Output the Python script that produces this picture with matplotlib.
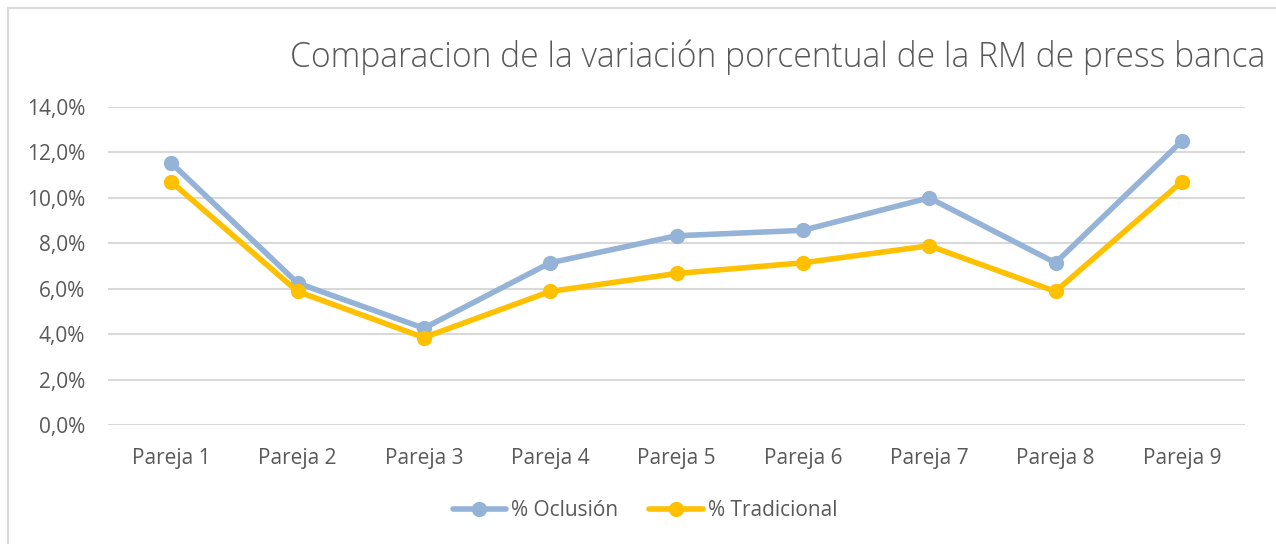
import matplotlib
matplotlib.use("Agg")
import matplotlib.pyplot as plt
from matplotlib.ticker import FuncFormatter
from matplotlib.patches import Rectangle

categories = ["Pareja 1", "Pareja 2", "Pareja 3", "Pareja 4", "Pareja 5",
              "Pareja 6", "Pareja 7", "Pareja 8", "Pareja 9"]
oclusion = [11.54, 6.25, 4.26, 7.14, 8.33, 8.57, 10.0, 7.14, 12.5]
tradicional = [10.71, 5.88, 3.85, 5.88, 6.67, 7.14, 7.89, 5.88, 10.71]
yticks = [0, 2, 4, 6, 8, 10, 12, 14]

plt.rcParams['font.family'] = ['Open Sans', 'DejaVu Sans']
W, H = 1276, 544
fig = plt.figure(figsize=(W / 100, H / 100), dpi=100)

# outer chart border
fig.patches.append(Rectangle((8 / W, -0.05), 1.2, (H - 8) / H + 0.05,
                             transform=fig.transFigure, fill=False,
                             edgecolor='#D9D9D9', linewidth=1.5))

left, right, top, bottom = 108, 1245, 107, 425
ax = fig.add_axes([left / W, 1 - bottom / H, (right - left) / W, (bottom - top) / H])

x = list(range(len(categories)))
ax.plot(x, oclusion, color='#95B3D7', linewidth=4, marker='o', markersize=10,
        label='% Oclusión', solid_capstyle='round', zorder=3)
ax.plot(x, tradicional, color='#FFC000', linewidth=4, marker='o', markersize=10,
        label='% Tradicional', solid_capstyle='round', zorder=3)

ax.set_xlim(-0.5, len(categories) - 0.5)
ax.set_ylim(0, 14)
ax.set_yticks(yticks)
ax.yaxis.set_major_formatter(FuncFormatter(lambda v, p: f"{v:.1f}%".replace('.', ',')))
ax.set_xticks(x)
ax.set_xticklabels(categories)
ax.grid(axis='y', color='#D9D9D9', linewidth=1.5, zorder=0)
ax.set_axisbelow(True)
for s in ax.spines.values():
    s.set_visible(False)
ax.tick_params(axis='both', length=0, labelsize=15, labelcolor='#595959')
ax.tick_params(axis='y', pad=16.5)
ax.tick_params(axis='x', pad=16.5)

fig.text(778 / W, 1 - 57 / H, "Comparacion de la variación porcentual de la RM de press banca",
         ha='center', va='center', fontsize=24.2, color='#595959', fontweight='light')

leg = fig.legend(loc='center', bbox_to_anchor=(645 / W, 1 - 511 / H), ncol=2,
                 frameon=False, fontsize=15, handlelength=2.55, columnspacing=1.5,
                 handletextpad=0.25)
for t in leg.get_texts():
    t.set_color('#595959')

fig.savefig("out.png", dpi=100)
